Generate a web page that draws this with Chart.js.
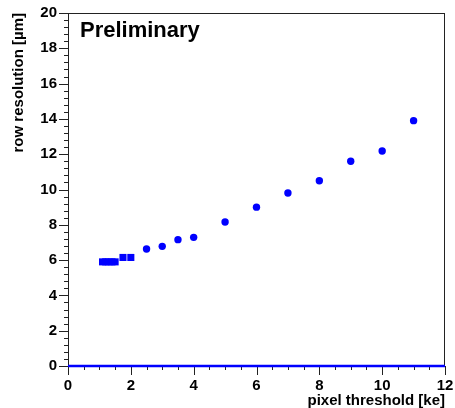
<!DOCTYPE html>
<html>
<head>
<meta charset="utf-8">
<script src="https://cdn.jsdelivr.net/npm/chart.js@4/dist/chart.umd.min.js"></script>
<style>
  html, body { margin: 0; padding: 0; background: #fff; }
  #wrap { width: 455px; height: 408px; }
</style>
</head>
<body>
<div id="wrap"><canvas id="c"></canvas></div>
<script>
const squareX = [1.1, 1.2, 1.3, 1.4, 1.5, 1.75, 2.0];
const squareY = [5.9, 5.9, 5.9, 5.9, 5.9, 6.15, 6.15];
const circleX = [2.5, 3, 3.5, 4, 5, 6, 7, 8, 9, 10, 11];
const circleY = [6.63, 6.78, 7.16, 7.29, 8.16, 9.0, 9.8, 10.5, 11.6, 12.18, 13.9];
const xRange = [0, 12];
const yRange = [0, 20];

const FONT = "'Liberation Sans', Arial, sans-serif";
const BLUE = 'rgb(0, 0, 255)';

// ROOT-like frame, major/minor ticks and the "Preliminary" label
const frameTicks = {
  id: 'frameTicks',
  beforeDatasetsDraw(chart) {
    const { ctx, chartArea: a, scales: { x, y } } = chart;
    ctx.save();
    ctx.strokeStyle = '#222';
    ctx.lineWidth = 1;
    ctx.strokeRect(a.left + 0.5, a.top + 0.5, a.right - a.left - 1, a.bottom - a.top);

    ctx.beginPath();
    for (let i = 0; i <= 50; i++) {
      const v = i * 0.4;
      const py = Math.round(y.getPixelForValue(v)) + 0.5;
      const len = i % 5 === 0 ? 9 : 4;
      ctx.moveTo(a.left, py);
      ctx.lineTo(a.left - len, py);
    }
    for (let i = 0; i <= 24; i++) {
      const v = i * 0.5;
      const px = Math.round(x.getPixelForValue(v)) + 0.5;
      const len = i % 4 === 0 ? 9 : 4;
      ctx.moveTo(px, a.bottom);
      ctx.lineTo(px, a.bottom + len);
    }
    ctx.stroke();

    ctx.fillStyle = '#000';
    ctx.font = 'bold 22px ' + FONT;
    ctx.textBaseline = 'middle';
    ctx.fillText('Preliminary', a.left + 12, a.top + 18);
    ctx.restore();
  }
};

new Chart(document.getElementById('c'), {
  type: 'scatter',
  data: {
    datasets: [
      {
        label: 'zero',
        type: 'line',
        data: xRange.map(v => ({ x: v, y: 0 })),
        borderColor: BLUE,
        borderWidth: 2.5,
        pointRadius: 0,
        clip: false
      },
      {
        label: 'squares',
        data: squareX.map((v, i) => ({ x: v, y: squareY[i] })),
        pointStyle: 'rect',
        pointRadius: 5,
        backgroundColor: BLUE,
        borderColor: BLUE,
        borderWidth: 0
      },
      {
        label: 'circles',
        data: circleX.map((v, i) => ({ x: v, y: circleY[i] })),
        pointStyle: 'circle',
        pointRadius: 3.7,
        backgroundColor: BLUE,
        borderColor: BLUE,
        borderWidth: 0
      }
    ]
  },
  options: {
    responsive: true,
    maintainAspectRatio: false,
    animation: false,
    layout: { padding: { left: 0, right: 10, top: 13, bottom: 0 } },
    plugins: {
      legend: { display: false },
      tooltip: { enabled: false }
    },
    scales: {
      x: {
        type: 'linear',
        min: xRange[0],
        max: xRange[1],
        grid: { display: false, drawTicks: false },
        border: { display: false },
        ticks: {
          stepSize: 2,
          padding: 11,
          color: '#000',
          font: { family: FONT, weight: 'bold', size: 15 },
          maxRotation: 0
        },
        title: {
          display: true,
          text: 'pixel threshold [ke]',
          align: 'end',
          color: '#000',
          font: { family: FONT, weight: 'bold', size: 15 },
          padding: { top: 0, bottom: -2 }
        },
        afterFit(s) {
          s.height = 42;
          s.paddingLeft = 0;
          s.paddingRight = 0;
        }
      },
      y: {
        type: 'linear',
        min: yRange[0],
        max: yRange[1],
        grid: { display: false, drawTicks: false },
        border: { display: false },
        ticks: {
          stepSize: 2,
          padding: 11,
          color: '#000',
          font: { family: FONT, weight: 'bold', size: 15 }
        },
        title: {
          display: true,
          text: 'row resolution [µm]',
          align: 'end',
          color: '#000',
          font: { family: FONT, weight: 'bold', size: 15 },
          padding: { top: 10, bottom: 0 }
        },
        afterFit(s) {
          s.width = 68;
          s.paddingTop = 0;
          s.paddingBottom = 0;
        }
      }
    }
  },
  plugins: [frameTicks]
});
</script>
</body>
</html>
